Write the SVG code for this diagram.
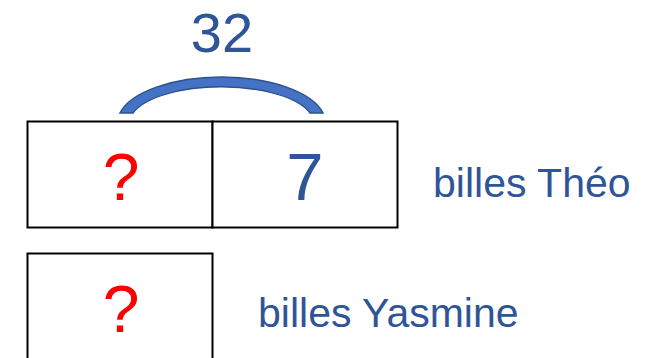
<svg xmlns="http://www.w3.org/2000/svg" width="647" height="358" viewBox="0 0 647 358">
<style>
.box{fill:#fff;stroke:#000;stroke-width:2}
.blue{fill:#2F5597;font-family:"Liberation Sans",Arial,sans-serif}
.red{fill:#FF0000;font-family:"Liberation Sans",Arial,sans-serif}
</style>
<rect width="647" height="358" fill="#fff"/>
<g id="brace">
<path d="M120,113 A104,46 0 0 1 323,113 L310,113 A92,36 0 0 0 133,113 Z" fill="#4472C4" stroke="#2F528F" stroke-width="1.5"/>
<text x="222" y="52" class="blue" font-size="56" text-anchor="middle">32</text>
</g>
<g id="theo-unknown">
<rect x="27.5" y="121.5" width="185" height="106" class="box"/>
<text x="121" y="200" class="red" font-size="66" text-anchor="middle">?</text>
</g>
<g id="theo-seven">
<rect x="212.5" y="121.5" width="185" height="106" class="box"/>
<text x="305" y="200" class="blue" font-size="67" text-anchor="middle">7</text>
</g>
<g id="yasmine">
<rect x="27.5" y="253.5" width="185" height="110" class="box"/>
<text x="121" y="332" class="red" font-size="66" text-anchor="middle">?</text>
</g>
<g id="labels">
<text x="433" y="197" class="blue" font-size="41">billes Théo</text>
<text x="258" y="327" class="blue" font-size="41">billes Yasmine</text>
</g>
</svg>
